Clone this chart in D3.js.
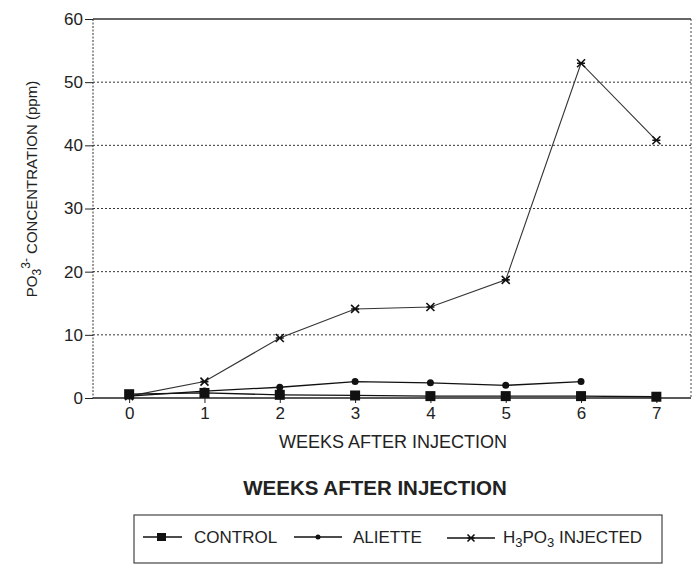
<!DOCTYPE html>
<html>
<head>
<meta charset="utf-8">
<script src="https://cdn.jsdelivr.net/npm/d3@7"></script>
<style>
  body { margin: 0; background: #fff; }
  text { font-family: "Liberation Sans", Arial, sans-serif; fill: #222; }
</style>
</head>
<body>
<div id="chart"></div>
<script>
const weeks = [0, 1, 2, 3, 4, 5, 6, 7];
const yTicks = [0, 10, 20, 30, 40, 50, 60];
const control = [0.6, 0.8, 0.5, 0.4, 0.3, 0.3, 0.3, 0.2];
const aliette = [0.3, 1.1, 1.7, 2.6, 2.4, 2.0, 2.6];
const h3po3 = [0.3, 2.6, 9.5, 14.1, 14.4, 18.7, 53.0, 40.8];

const width = 696, height = 565;
const svg = d3.select("#chart").append("svg")
    .attr("width", width).attr("height", height);

const plotL = 93, plotR = 691, plotT = 19, plotB = 398;

const x = d3.scaleLinear().domain([-0.48, 7.46]).range([plotL, plotR]);
const y = d3.scaleLinear().domain([0, 60]).range([plotB, plotT]);

// 网格线（虚线）
svg.append("g").selectAll("line")
    .data(yTicks.filter(d => d > 0 && d < 60))
    .join("line")
    .attr("x1", plotL).attr("x2", plotR)
    .attr("y1", d => y(d)).attr("y2", d => y(d))
    .attr("stroke", "#333").attr("stroke-width", 1)
    .attr("stroke-dasharray", "2,2");

// 边框：上、下实线，左右虚线
svg.append("line").attr("x1", plotL).attr("x2", plotR).attr("y1", plotT).attr("y2", plotT)
    .attr("stroke", "#333").attr("stroke-width", 1.3);
svg.append("line").attr("x1", plotL).attr("x2", plotR).attr("y1", plotB).attr("y2", plotB)
    .attr("stroke", "#222").attr("stroke-width", 1.5);
svg.append("line").attr("x1", plotL).attr("x2", plotL).attr("y1", plotT).attr("y2", plotB)
    .attr("stroke", "#333").attr("stroke-dasharray", "2,1.5");
svg.append("line").attr("x1", plotR).attr("x2", plotR).attr("y1", plotT).attr("y2", plotB)
    .attr("stroke", "#444").attr("stroke-dasharray", "2,2");

// y 轴
const yAxis = svg.append("g")
    .attr("transform", `translate(${plotL},0)`)
    .call(d3.axisLeft(y).tickValues(yTicks).tickSize(8).tickPadding(2));
yAxis.select(".domain").remove();
yAxis.selectAll(".tick line").attr("stroke", "#222");
yAxis.selectAll(".tick text").attr("font-size", 17).attr("fill", "#222")
    .attr("font-family", "Liberation Sans, Arial, sans-serif");

// x 轴
const xAxis = svg.append("g")
    .attr("transform", `translate(0,${plotB})`)
    .call(d3.axisBottom(x).tickValues(weeks).tickSize(5).tickPadding(4));
xAxis.select(".domain").remove();
xAxis.selectAll(".tick line").attr("stroke", "#222");
xAxis.selectAll(".tick text").attr("font-size", 17).attr("fill", "#222")
    .attr("font-family", "Liberation Sans, Arial, sans-serif");

const line = d3.line().x((d, i) => x(weeks[i])).y(d => y(d));

// 折线
svg.append("path").datum(h3po3).attr("d", line)
    .attr("fill", "none").attr("stroke", "#333").attr("stroke-width", 1.1);
svg.append("path").datum(aliette).attr("d", line)
    .attr("fill", "none").attr("stroke", "#111").attr("stroke-width", 1.3);
svg.append("path").datum(control).attr("d", line)
    .attr("fill", "none").attr("stroke", "#111").attr("stroke-width", 1.3);

// 标记
function crossMark(g, cx, cy, s) {
    g.append("path")
        .attr("d", `M${cx - s},${cy - s}L${cx + s},${cy + s}M${cx - s},${cy + s}L${cx + s},${cy - s}M${cx - s},${cy}L${cx + s},${cy}`)
        .attr("stroke", "#111").attr("stroke-width", 1.6);
}
const marks = svg.append("g");
h3po3.forEach((d, i) => crossMark(marks, x(weeks[i]), y(d), 4));
marks.selectAll("circle.al").data(aliette).join("circle")
    .attr("class", "al")
    .attr("cx", (d, i) => x(weeks[i])).attr("cy", d => y(d)).attr("r", 3.5)
    .attr("fill", "#111");
marks.selectAll("rect.ct").data(control).join("rect")
    .attr("class", "ct")
    .attr("x", (d, i) => x(weeks[i]) - 5).attr("y", d => y(d) - 5)
    .attr("width", 10).attr("height", 10).attr("fill", "#111");

// 坐标轴标题
const yLab = svg.append("text")
    .attr("transform", "translate(37,189) rotate(-90)")
    .attr("text-anchor", "middle").attr("font-size", 15);
yLab.append("tspan").text("PO");
yLab.append("tspan").attr("dy", 4).attr("font-size", 12).text("3");
yLab.append("tspan").attr("dy", -11).attr("font-size", 12).text("3-");
yLab.append("tspan").attr("dy", 7).text(" CONCENTRATION (ppm)");

svg.append("text").attr("x", 393).attr("y", 448)
    .attr("text-anchor", "middle").attr("font-size", 18)
    .text("WEEKS AFTER INJECTION");

svg.append("text").attr("x", 375).attr("y", 495)
    .attr("text-anchor", "middle").attr("font-size", 20.5).attr("font-weight", "bold")
    .text("WEEKS AFTER INJECTION");

// 图例
svg.append("rect").attr("x", 134).attr("y", 515).attr("width", 528).attr("height", 48)
    .attr("fill", "none").attr("stroke", "#444").attr("stroke-width", 1.2);
const ly = 537;
const leg = svg.append("g");
leg.append("line").attr("x1", 143).attr("x2", 182).attr("y1", ly).attr("y2", ly).attr("stroke", "#111").attr("stroke-width", 1.5);
leg.append("rect").attr("x", 157).attr("y", ly - 4).attr("width", 9).attr("height", 8).attr("fill", "#111");
leg.append("text").attr("x", 194).attr("y", ly + 5.5).attr("font-size", 17).text("CONTROL");
leg.append("line").attr("x1", 294).attr("x2", 342).attr("y1", ly).attr("y2", ly).attr("stroke", "#111").attr("stroke-width", 1.5);
leg.append("circle").attr("cx", 318).attr("cy", ly).attr("r", 2.5).attr("fill", "#111");
leg.append("text").attr("x", 353).attr("y", ly + 5.5).attr("font-size", 17).text("ALIETTE");
leg.append("line").attr("x1", 447).attr("x2", 495).attr("y1", ly + 1).attr("y2", ly + 1).attr("stroke", "#111").attr("stroke-width", 1.3);
crossMark(leg, 471, ly + 1, 3.5);
const lt = leg.append("text").attr("x", 503).attr("y", ly + 5.5).attr("font-size", 17);
lt.append("tspan").text("H");
lt.append("tspan").attr("dy", 4).attr("font-size", 13).text("3");
lt.append("tspan").attr("dy", -4).text("PO");
lt.append("tspan").attr("dy", 4).attr("font-size", 13).text("3");
lt.append("tspan").attr("dy", -4).text(" INJECTED");
</script>
</body>
</html>
